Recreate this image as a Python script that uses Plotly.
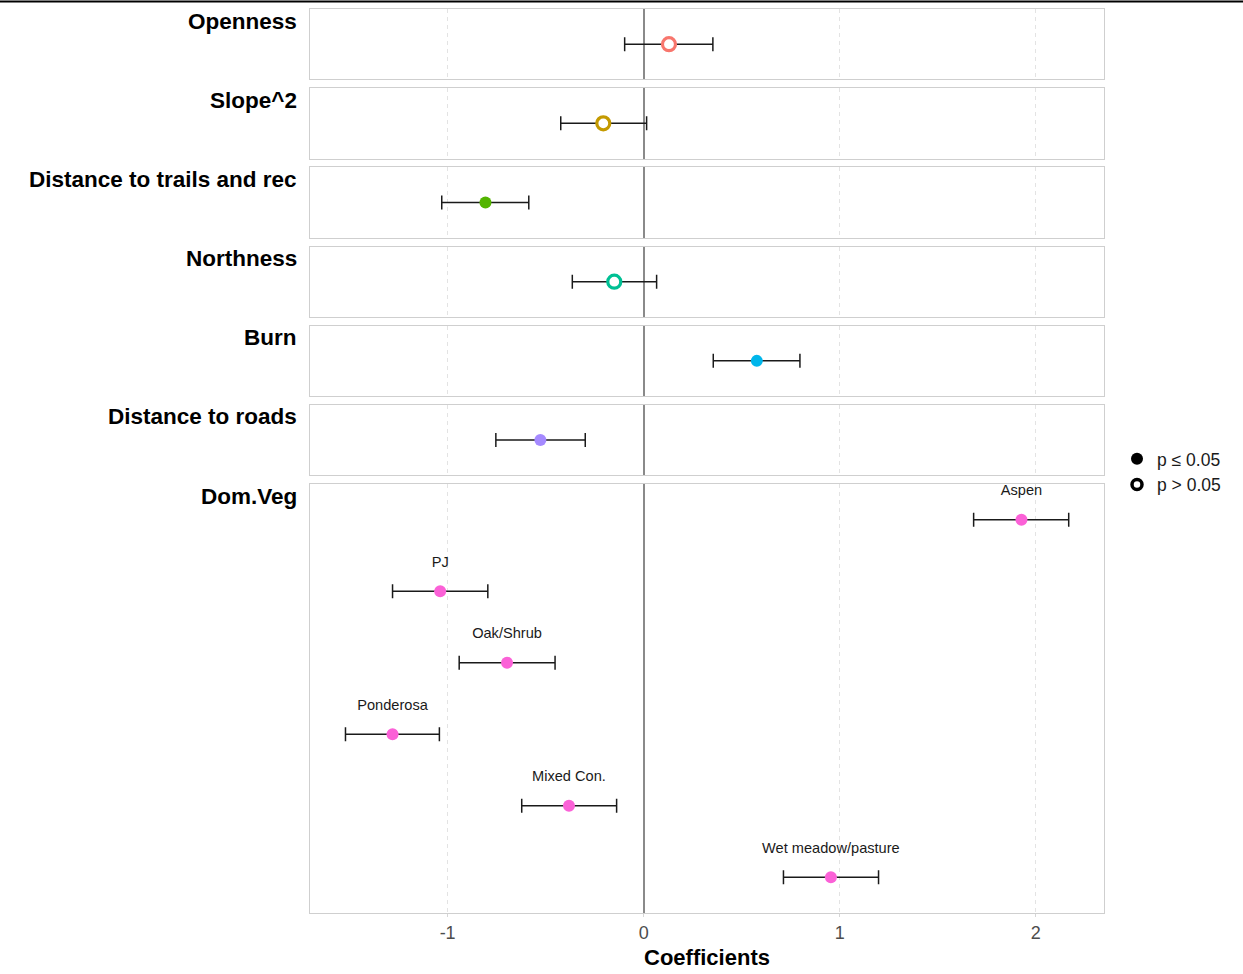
import plotly.graph_objects as go

# ---------------- data ----------------
terms = ["Openness", "Slope^2", "Distance to trails and rec", "Northness", "Burn", "Distance to roads"]
term_est = [0.129, -0.206, -0.807, -0.150, 0.577, -0.527]
term_lo = [-0.097, -0.423, -1.030, -0.364, 0.355, -0.754]
term_hi = [0.353, 0.015, -0.586, 0.066, 0.797, -0.298]
term_sig = [False, False, True, False, True, True]
term_colors = ["#F8766D", "#C49A00", "#53B400", "#00C094", "#00B6EB", "#A58AFF"]

veg_panel = "Dom.Veg"
veg_levels = ["Aspen", "PJ", "Oak/Shrub", "Ponderosa", "Mixed Con.", "Wet meadow/pasture"]
veg_est = [1.927, -1.038, -0.697, -1.281, -0.381, 0.955]
veg_lo = [1.683, -1.281, -0.941, -1.521, -0.622, 0.713]
veg_hi = [2.168, -0.795, -0.452, -1.042, -0.138, 1.198]
veg_sig = [True, True, True, True, True, True]
veg_color = "#FB61D7"

legend_labels = ["p \u2264 0.05", "p > 0.05"]
x_ticks = [-1, 0, 1, 2]
x_tick_labels = ["-1", "0", "1", "2"]
x_title = "Coefficients"

# ---------------- layout geometry ----------------
W, H = 1243, 974
m_l, m_r, m_t, m_b = 310, 139, 8, 56
plot_h = H - m_t - m_b
plot_w = W - m_l - m_r
small_h, gap = 70.8, 8.9
n_small = len(terms)

def px_to_paper_y(py):
    return 1 - (py - m_t) / plot_h

domains = []
top = m_t
for i in range(n_small):
    domains.append([px_to_paper_y(top + small_h), px_to_paper_y(top)])
    top += small_h + gap
domains.append([0.0, px_to_paper_y(top)])

fig = go.Figure()
n_panels = n_small + 1
font_family = "Liberation Sans, Arial, sans-serif"


def marker_style(sig, color):
    if sig:
        return dict(size=12, color=color, symbol="circle", line=dict(width=0))
    return dict(size=13, color="white", symbol="circle", line=dict(width=3.2, color=color))


def err(est, lo, hi):
    return dict(type="data", symmetric=False,
                array=[h - e for e, h in zip(est, hi)],
                arrayminus=[e - l for e, l in zip(est, lo)],
                color="#1a1a1a", thickness=1.5, width=7)

for i in range(n_small):
    ax = "" if i == 0 else str(i + 1)
    fig.add_trace(go.Scatter(
        x=[term_est[i]], y=[0], mode="markers",
        marker=marker_style(term_sig[i], term_colors[i]),
        error_x=err([term_est[i]], [term_lo[i]], [term_hi[i]]),
        xaxis="x" + ax, yaxis="y" + ax, showlegend=False, hoverinfo="x"))

veg_y = list(range(len(veg_levels)))
axv = str(n_panels)
fig.add_trace(go.Scatter(
    x=veg_est, y=veg_y, mode="markers",
    marker=dict(size=12, color=veg_color, line=dict(width=0)),
    error_x=err(veg_est, veg_lo, veg_hi),
    xaxis="x" + axv, yaxis="y" + axv, showlegend=False, hoverinfo="x"))
label_offset = 0.396
fig.add_trace(go.Scatter(
    x=veg_est, y=[v - label_offset for v in veg_y], mode="text",
    text=veg_levels, textposition="middle center",
    textfont=dict(size=14.6, color="#1a1a1a", family=font_family),
    xaxis="x" + axv, yaxis="y" + axv, showlegend=False, hoverinfo="skip"))

# legend entries
fig.add_trace(go.Scatter(x=[None], y=[None], mode="markers", name=legend_labels[0],
                         marker=dict(size=12, color="black"), xaxis="x" + axv, yaxis="y" + axv))
fig.add_trace(go.Scatter(x=[None], y=[None], mode="markers", name=legend_labels[1],
                         marker=dict(size=10, color="white", line=dict(width=3.5, color="black")),
                         xaxis="x" + axv, yaxis="y" + axv))

x_range = [-1.702, 2.348]
border = "#cfcfcf"
layout = dict(
    width=W, height=H,
    margin=dict(l=m_l, r=m_r, t=m_t, b=m_b),
    paper_bgcolor="white", plot_bgcolor="white",
    font=dict(family=font_family, color="black"),
    showlegend=True,
    legend=dict(x=(1117 - m_l) / plot_w, xanchor="left", y=px_to_paper_y(474), yanchor="middle",
                font=dict(size=17.5, color="#1a1a1a", family=font_family),
                bgcolor="rgba(0,0,0,0)", itemsizing="trace", tracegroupgap=0),
)

annotations = []
panel_names = terms + [veg_panel]
for i in range(n_panels):
    k = "" if i == 0 else str(i + 1)
    last = i == n_panels - 1
    xa = dict(domain=[0, 1], range=x_range, anchor="y" + k,
              tickvals=x_ticks, ticktext=x_tick_labels,
              showgrid=True, gridcolor="#e3e3e3", griddash="4px,4px", gridwidth=1,
              zeroline=True, zerolinecolor="#8a8a8a", zerolinewidth=1.5,
              showline=True, mirror=True, linecolor=border, linewidth=1,
              showticklabels=last)
    if i != n_panels - 1:
        xa["matches"] = "x" + str(n_panels)
    if last:
        xa.update(ticks="outside", ticklen=3, tickcolor="#d6d6d6", tickwidth=1,
                  tickfont=dict(size=18, color="#4d4d4d", family=font_family),
                  title=dict(text="<b>" + x_title + "</b>", standoff=8,
                             font=dict(size=22, color="black", family=font_family)))
    if last:
        ya = dict(domain=domains[i], range=[len(veg_levels) - 0.5, -0.5], anchor="x" + k,
                  showticklabels=False, showgrid=False, zeroline=False,
                  showline=True, mirror=True, linecolor=border, linewidth=1)
    else:
        ya = dict(domain=domains[i], range=[-0.5, 0.5], anchor="x" + k,
                  showticklabels=False, showgrid=False, zeroline=False,
                  showline=True, mirror=True, linecolor=border, linewidth=1)
    layout["xaxis" + k] = xa
    layout["yaxis" + k] = ya
    annotations.append(dict(text="<b>" + panel_names[i] + "</b>", xref="paper", x=-11 / plot_w,
                            xanchor="right", yref="y" + k + " domain", y=1, yanchor="middle",
                            yshift=-12, showarrow=False,
                            font=dict(size=22.5, color="black", family=font_family)))

layout["annotations"] = annotations
layout["shapes"] = [dict(type="line", xref="paper", yref="paper",
                         x0=-m_l / plot_w, x1=1 + m_r / plot_w,
                         y0=1 + 7.5 / plot_h, y1=1 + 7.5 / plot_h,
                         line=dict(color="black", width=2))]
fig.update_layout(**layout)
fig.write_html("out.html", config={"displayModeBar": False},
               post_script="document.body.style.margin='0';")
